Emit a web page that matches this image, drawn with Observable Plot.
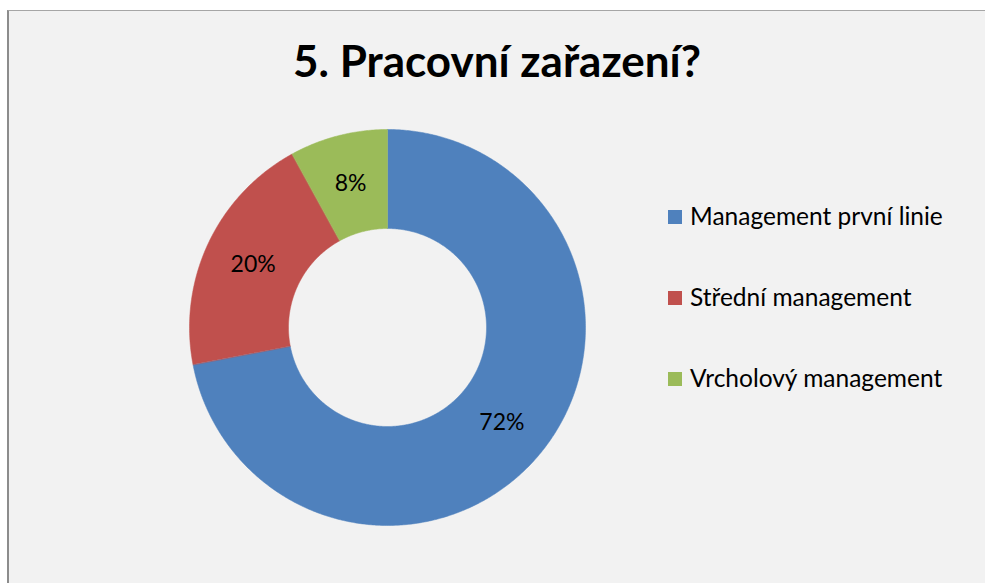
<!DOCTYPE html>
<html><head><meta charset="utf-8">
<script src="https://cdn.jsdelivr.net/npm/d3@7"></script>
<script src="https://cdn.jsdelivr.net/npm/@observablehq/plot@0.6"></script>
<style>
html,body{margin:0;padding:0;background:#fff;width:985px;height:583px;overflow:hidden;font-family:Lato,"Open Sans",sans-serif}
#frame{position:absolute;left:7px;top:10px;width:1100px;height:700px;background:#f2f2f2;border-top:1px solid #a6a6a6;border-left:2px solid #8c8c8c}
#chart{position:absolute;left:0;top:0}
#over{position:absolute;left:0;top:0}
</style></head>
<body>
<div id="frame"></div>
<div id="chart"></div>
<svg id="over" width="985" height="583"></svg>
<script>
const title = "5. Pracovní zařazení?";
const categories = ["Management první linie", "Střední management", "Vrcholový management"];
const values = [72, 20, 8];
const colors = ["#4f81bd", "#c0504d", "#9bbb59"];

const total = d3.sum(values);
const inner = 0.5, outer = 1;
const pts = [];
const labels = [];
let acc = 0;
categories.forEach((c, i) => {
  const a0 = acc / total * 2 * Math.PI;
  acc += values[i];
  const a1 = acc / total * 2 * Math.PI;
  const n = Math.max(4, Math.ceil((a1 - a0) / (Math.PI / 360)));
  for (let k = 0; k <= n; k++) {
    const a = a0 + (a1 - a0) * k / n;
    pts.push({cat: c, x: Math.sin(a) * outer, y: Math.cos(a) * outer});
  }
  for (let k = n; k >= 0; k--) {
    const a = a0 + (a1 - a0) * k / n;
    pts.push({cat: c, x: Math.sin(a) * inner, y: Math.cos(a) * inner});
  }
  const am = (a0 + a1) / 2, rm = (inner + outer) / 2;
  labels.push({cat: c, x: Math.sin(am) * rm, y: Math.cos(am) * rm, text: Math.round(values[i] / total * 100) + "%"});
});

const plot = Plot.plot({
  width: 985, height: 583,
  marginLeft: 189, marginRight: 400, marginTop: 129, marginBottom: 58,
  x: {domain: [-1, 1], axis: null},
  y: {domain: [-1, 1], axis: null},
  color: {domain: categories, range: colors},
  style: {background: "transparent", fontFamily: "Lato, 'Open Sans', sans-serif"},
  marks: [
    Plot.line(pts, {x: "x", y: "y", z: "cat", fill: "cat", stroke: "cat", strokeWidth: 0.5, curve: "linear-closed"}),
    Plot.text(labels, {x: "x", y: "y", text: "text", fontSize: 23, fill: "black"})
  ]
});
document.getElementById("chart").appendChild(plot);

const svg = d3.select("#over");
svg.append("text").attr("x", 497).attr("y", 77).attr("text-anchor", "middle")
  .attr("font-family", "Lato, 'Open Sans', sans-serif").attr("font-weight", "bold").attr("font-size", 44)
  .attr("fill", "#000").text(title);
const lg = svg.selectAll("g.lg").data(categories).join("g").attr("class", "lg")
  .attr("transform", (d, i) => `translate(668,${217 + i * 81})`);
lg.append("rect").attr("x", 0).attr("y", -7).attr("width", 14).attr("height", 14).attr("fill", (d, i) => colors[i]);
lg.append("text").attr("x", 22).attr("y", 8).attr("font-family", "Lato, 'Open Sans', sans-serif")
  .attr("font-size", 24.5).attr("fill", "#000").text(d => d);
</script>
</body></html>
